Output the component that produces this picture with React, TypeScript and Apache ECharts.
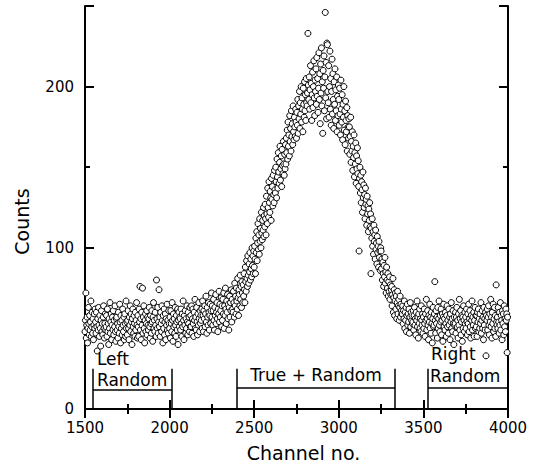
import React, { useEffect, useRef } from "react";
import * as echarts from "echarts";

// Channel spacing of the sampled spectrum
const channelStep = 2.5;

// Counts, channels 1500 – 2310 (left random region and flat background)
const leftStart = 1500;
const countsLeft = [
  48,55,72,44,52,57,41,50,63,53,46,58,49,54,67,45,51,60,47,56,43,52,59,50,62,
  54,47,60,51,36,56,49,63,52,45,58,50,39,55,61,48,53,46,57,64,50,44,53,59,49,
  51,58,45,62,48,53,40,56,50,66,47,54,59,43,52,57,49,61,46,55,51,64,48,42,56,
  57,49,53,44,60,51,47,65,54,41,58,50,55,46,62,52,48,57,43,59,53,45,67,50,54,
  46,55,61,50,43,57,52,64,48,59,54,40,56,62,51,47,58,53,45,60,49,55,66,52,44,
  58,51,45,62,54,76,49,56,43,60,52,75,47,57,64,50,41,55,59,48,53,61,46,57,52,
  49,56,63,51,44,58,53,47,61,54,42,57,66,50,55,48,60,52,45,80,56,50,63,47,54,
  74,51,57,45,60,53,48,64,55,41,58,50,62,46,54,59,43,56,52,65,49,55,47,61,53,
  50,57,44,61,53,48,66,55,42,59,51,56,47,63,52,45,58,54,49,62,40,55,60,51,57,
  56,49,62,53,45,59,51,67,55,43,58,52,61,47,56,50,64,54,46,60,53,57,48,63,51,
  58,51,64,47,56,62,53,45,60,55,68,50,57,49,63,54,46,59,52,66,56,48,61,53,58,
  55,62,50,67,58,48,61,56,64,51,59,70,54,47,63,57,52,66,60,49,58,65,53,61,72,
  57,64,52,61,68,55,49,63,58,71,53,60,66,56,48,62,59,73,54,65,57,61,69,51,64,
];

// Counts, channels 2312.5 – 3372.5 (the peak)
const peakStart = 2312.5;
const countsPeak = [
  55,68,59,72,50,64,58,75,62,53,67,60,71,56,65,49,63,70,57,66,61,74,54,68,62,
  60,73,66,57,78,64,70,59,75,67,62,81,69,58,74,71,64,83,68,76,63,79,72,66,77,
  70,84,74,66,88,79,73,92,81,76,95,83,78,90,85,97,80,93,87,82,100,89,95,84,98,
  88,101,93,84,106,97,110,92,103,115,99,108,96,118,104,112,100,122,109,105,117,111,125,107,120,
  113,127,118,108,132,121,115,137,125,119,141,128,122,135,131,117,143,130,138,126,145,133,128,148,136,
  134,150,141,131,155,144,137,159,147,140,153,163,142,149,157,138,161,151,146,166,152,145,158,149,164,
  152,168,159,173,155,178,163,170,157,182,166,174,160,185,169,177,164,188,172,167,181,175,169,186,178,
  168,184,176,192,171,188,180,197,174,190,183,200,178,193,186,172,199,189,181,203,185,195,179,205,190,
  188,196,233,201,192,206,186,198,213,190,202,179,195,209,187,200,216,193,182,204,197,211,189,218,194,
  205,184,199,221,192,208,177,214,196,224,188,203,171,210,199,219,185,206,246,193,215,180,227,226,197,
  190,213,181,200,222,186,205,176,197,217,183,208,192,174,203,189,211,179,198,185,206,172,194,182,201,
  192,176,199,183,170,204,186,178,195,167,189,181,200,173,185,164,191,179,172,187,160,182,175,168,180,
  175,158,169,181,153,166,160,172,148,163,156,170,144,159,152,165,140,157,149,162,146,154,138,98,143,
  150,134,145,128,141,136,122,147,131,139,125,133,118,137,127,130,114,132,121,126,110,124,117,128,113,
  121,84,112,106,118,101,110,96,114,104,108,93,111,99,103,90,107,97,101,88,104,94,98,86,100,
  98,87,93,80,91,84,76,89,82,94,78,85,72,88,80,75,84,70,79,73,82,68,77,71,74,
  76,64,71,81,60,69,74,58,67,72,62,70,56,66,73,59,64,68,55,63,70,57,65,61,59,
];

// Counts, channels 3375 – 3997.5 (right random region)
const rightStart = 3375;
const countsRight = [
  59,64,53,61,56,67,50,60,55,63,48,58,65,52,59,54,62,47,57,66,51,60,55,58,53,
  54,61,49,58,63,52,56,46,60,55,67,51,57,44,59,53,62,50,56,48,64,55,52,59,47,
  57,50,62,53,45,59,55,68,49,56,61,52,43,58,54,65,50,57,47,60,53,41,56,63,51,
  52,59,79,55,47,61,53,57,44,63,50,56,67,52,48,58,54,62,46,55,59,42,57,65,51,
  56,49,60,53,45,58,64,51,55,47,62,52,57,43,59,54,66,50,56,48,61,53,40,57,52,
  53,60,47,57,63,51,55,44,59,52,68,49,56,61,46,54,58,42,57,50,64,55,48,60,53,
  57,50,62,54,46,59,53,65,48,56,61,51,44,58,55,67,49,57,52,60,45,55,63,50,58,
  51,58,45,60,54,62,48,56,50,59,53,66,47,55,61,50,57,43,63,52,56,49,60,33,58,
  55,62,49,57,64,52,46,59,54,68,51,57,44,60,53,65,48,56,63,50,58,45,77,54,52,
  57,50,63,54,47,60,52,66,49,58,55,43,61,53,59,46,64,51,56,48,62,55,59,35,57,
];

// Axis ranges and ticks
const xMin = 1500;
const xMax = 4000;
const xInterval = 500;
const yMin = 0;
const yMax = 250;
const yMajor = 100;
const yMinor = 50;

// Gate regions: [from channel, to channel, bar level (counts)]
const gateFrom = [1547, 2398, 3527];
const gateTo = [2014, 3332, 4000];
const gateBar = [12, 13, 13];
const gateTop = 25;

const FONT = "DejaVu Sans";

function toPoints(start: number, arr: number[]) {
  return arr.map((v, i) => [start + i * channelStep, v]);
}

export default function App() {
  const ref = useRef<HTMLDivElement>(null);

  useEffect(() => {
    if (!ref.current) return;
    const chart = echarts.init(ref.current, null, { renderer: "svg" });

    const data = [
      ...toPoints(leftStart, countsLeft),
      ...toPoints(peakStart, countsPeak),
      ...toPoints(rightStart, countsRight),
    ];

    const lineData: any[] = [];
    for (let i = 0; i < gateFrom.length; i++) {
      lineData.push([{ coord: [gateFrom[i], gateTop] }, { coord: [gateFrom[i], 0] }]);
      lineData.push([{ coord: [gateTo[i], gateTop] }, { coord: [gateTo[i], 0] }]);
      lineData.push([{ coord: [gateFrom[i], gateBar[i]] }, { coord: [gateTo[i], gateBar[i]] }]);
    }

    const axisLine = { show: true, lineStyle: { color: "#000", width: 2 } };
    const xCommon = {
      type: "value" as const,
      min: xMin,
      max: xMax,
      interval: xInterval,
      axisLine,
      axisTick: { show: true, inside: true, length: 9, lineStyle: { color: "#000", width: 2 } },
      minorTick: { show: true, splitNumber: 2, length: 5, lineStyle: { color: "#000", width: 2 } },
      splitLine: { show: false },
      minorSplitLine: { show: false },
    };
    const yMinorAxis = (pos: "left" | "right", labels: boolean) => ({
      type: "value" as const,
      position: pos,
      min: yMin,
      max: yMax,
      interval: yMinor,
      axisLine,
      axisTick: { show: true, inside: true, length: 5, lineStyle: { color: "#000", width: 2 } },
      splitLine: { show: false },
      axisLabel: labels
        ? {
            show: true,
            margin: 11,
            color: "#000",
            fontFamily: FONT,
            fontSize: 15,
            formatter: (v: number) => (v % yMajor === 0 ? String(v) : ""),
          }
        : { show: false },
    });
    const yMajorAxis = (pos: "left" | "right") => ({
      type: "value" as const,
      position: pos,
      min: yMin,
      max: yMax,
      interval: yMajor,
      axisLine: { show: false },
      axisTick: { show: true, inside: true, length: 9, lineStyle: { color: "#000", width: 2 } },
      splitLine: { show: false },
      axisLabel: { show: false },
    });

    chart.setOption({
      animation: false,
      backgroundColor: "#fff",
      grid: { left: 85, right: 30, top: 6, bottom: 59 },
      xAxis: [
        {
          ...xCommon,
          position: "bottom",
          axisLabel: {
            show: true,
            margin: 11,
            color: "#000",
            fontFamily: FONT,
            fontSize: 15,
            formatter: (v: number) => String(v),
          },
        },
        { ...xCommon, position: "top", axisLabel: { show: false } },
      ],
      yAxis: [
        yMinorAxis("left", true),
        yMajorAxis("left"),
        yMinorAxis("right", false),
        yMajorAxis("right"),
      ],
      series: [
        {
          type: "scatter",
          xAxisIndex: 0,
          yAxisIndex: 0,
          data,
          symbol: "circle",
          symbolSize: 6,
          itemStyle: { color: "#fff", borderColor: "#000", borderWidth: 1, opacity: 1 },
          clip: true,
          silent: true,
          markLine: {
            silent: true,
            symbol: ["none", "none"],
            label: { show: false },
            lineStyle: { color: "#000", width: 1.5, type: "solid" },
            data: lineData,
          },
        },
      ],
    });

    const px = (x: number, y: number) => chart.convertToPixel({ gridIndex: 0 }, [x, y]) as number[];
    const textStyle = (text: string, align: string, size = 17) => ({
      text,
      fill: "#000",
      font: `${size}px '${FONT}'`,
      align,
      verticalAlign: "middle",
    });
    const l = px(gateFrom[0], gateTop);
    const m1 = px(gateFrom[1], gateTop);
    const m2 = px(gateTo[1], gateTop);
    const r = px(gateFrom[2], gateTop);
    const origin = px(xMin, yMin);
    const corner = px(xMax, yMax);
    const midX = (origin[0] + corner[0]) / 2;
    const midY = (origin[1] + corner[1]) / 2;

    chart.setOption({
      graphic: [
        { type: "text", x: l[0] + 4, y: l[1] - 10, style: textStyle("Left", "left"), z: 100 },
        { type: "text", x: l[0] + 4, y: l[1] + 11, style: textStyle("Random", "left"), z: 100 },
        { type: "text", x: (m1[0] + m2[0]) / 2, y: m1[1] + 6, style: textStyle("True + Random", "center"), z: 100 },
        { type: "text", x: r[0] + 3, y: r[1] - 15, style: textStyle("Right", "left"), z: 100 },
        { type: "text", x: r[0] + 2, y: r[1] + 7, style: textStyle("Random", "left"), z: 100 },
        { type: "text", x: midX + 7, y: 453, style: textStyle("Channel no.", "center", 19), z: 100 },
        {
          type: "text",
          x: 22,
          y: midY + 14,
          rotation: Math.PI / 2,
          style: textStyle("Counts", "center", 19),
          z: 100,
        },
      ],
    });

    return () => chart.dispose();
  }, []);

  return (
    <div
      ref={ref}
      style={{ position: "fixed", left: 0, top: 0, width: 538, height: 468, background: "#fff" }}
    />
  );
}
